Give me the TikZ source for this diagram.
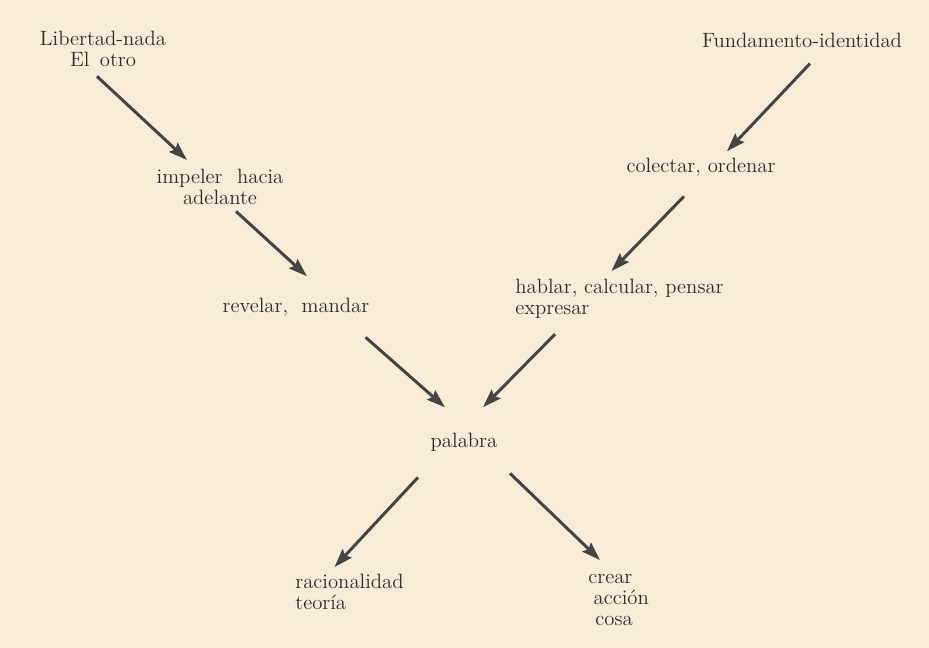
\documentclass[tikz,border=0pt]{standalone}
\usepackage{xcolor}
\usepackage{tikz}
\usetikzlibrary{positioning,calc,arrows.meta}
\definecolor{paper}{RGB}{248,235,216}
\definecolor{inkgrey}{RGB}{45,45,45}
\definecolor{arrowgrey}{RGB}{68,68,68}

\begin{document}
\begin{tikzpicture}[x=0.02cm,y=-0.02cm,
                word/.style={inner sep=0pt,text=inkgrey,font=\fontsize{11.8}{12}\selectfont},
                arr/.style={-{Stealth[length=10.5pt,width=7pt,inset=1.5pt]},line width=1.7pt,color=arrowgrey}]
    \fill[paper] (0,0) rectangle (929,648);
    \useasboundingbox (0,0) rectangle (929,648);
%Nodes
    \node[word, anchor=north, align=center] (LN) at (103,31) {Libertad-nada\\El\hspace{0.5em}otro};
    \node[word, anchor=base] (FI) at (802,48) {Fundamento-identidad};
    \node[word, anchor=north, align=center] (imp) at (220,169) {impeler\hspace{0.7em}hacia\\adelante};
    \node[word, anchor=base] (col) at (701,173) {colectar, ordenar};
    \node[word, anchor=base] (rev) at (296,313) {revelar,\hspace{0.65em}mandar};
    \node[word, anchor=north west, align=left] (hab) at (515,279) {hablar, calcular, pensar\\expresar};
    \node[word, anchor=base] (pal) at (464,447) {palabra};
    \node[word, anchor=north west, align=left] (rac) at (295,574) {racionalidad\\teoría};
    \node[word, anchor=north west, align=left] (cre) at (588,574) {crear\\\hspace*{3pt}acción\\\hspace*{4pt}cosa};

    \draw[arr] ([shift={(-6,9)}]LN.south) -- ([shift={(-33,-9)}]imp.north);
    \draw[arr] ([shift={(16,6)}]imp.south) -- ([shift={(11,-22)}]rev.north);
    \draw[arr] ([shift={(-4,20)}]rev.south east) -- ([shift={(-19,-25)}]pal.north);
    \draw[arr] ([shift={(8,15)}]FI.south) -- ([shift={(26,-7)}]col.north);
    \draw[arr] ([shift={(-17,19)}]col.south) -- ([shift={(-8,-8)}]hab.north);
    \draw[arr] ([shift={(40,15)}]hab.south west) -- ([shift={(19,-25)}]pal.north);
    \draw[arr] ([shift={(-46,26)}]pal.south) -- ([shift={(-15,-7)}]rac.north);
    \draw[arr] ([shift={(46,22)}]pal.south) -- ([shift={(12,-14)}]cre.north west);
\end{tikzpicture}
\end{document}
